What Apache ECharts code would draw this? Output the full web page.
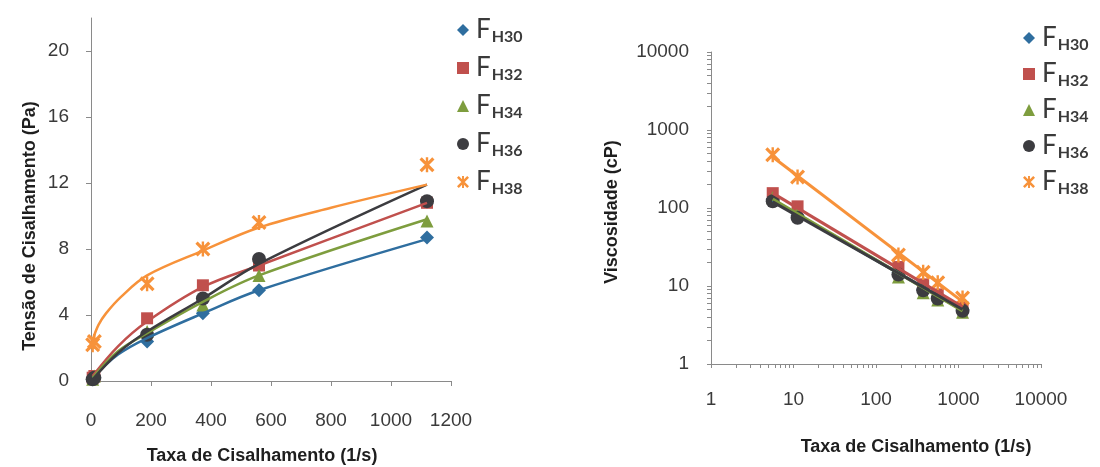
<!DOCTYPE html>
<html>
<head>
<meta charset="utf-8">
<script src="https://cdn.jsdelivr.net/npm/echarts@6/dist/echarts.min.js"></script>
<style>
html,body{margin:0;padding:0;background:#fff;}
#c{width:1100px;height:467px;}
</style>
</head>
<body>
<div id="c"></div>
<script>
// ---------- DATA ----------
const names = ['FH30', 'FH32', 'FH34', 'FH36', 'FH38'];

// Left chart: shear stress (Pa) vs shear rate (1/s)
const leftRate = [5.6, 11.2, 187, 373, 560, 1120];
const leftFH30 = [0.1, 0.2, 2.4, 4.1, 5.5, 8.7];
const leftFH32 = [0.2, 0.3, 3.8, 5.8, 7.0, 10.8];
const leftFH34 = [0.1, 0.3, 3.0, 4.6, 6.4, 9.7];
const leftFH36 = [0.1, 0.2, 2.8, 5.0, 7.4, 10.9];
const leftFH38 = [2.2, 2.4, 5.9, 8.0, 9.6, 13.1];

// Left chart trend lines
const trendRate = [5.6, 90, 187, 373, 560, 1120];
const trendFH30 = [0.2, 1.6, 2.6, 4.1, 5.5, 8.6];
const trendFH32 = [0.3, 2.1, 3.6, 5.7, 7.0, 10.8];
const trendFH34 = [0.2, 1.8, 2.9, 4.8, 6.4, 9.8];
const trendFH36 = [0.1, 1.7, 3.0, 5.0, 7.1, 11.9];
const trendRate38 = [5.6, 25, 50, 100, 187, 373, 560, 800, 1120];
const trendFH38 = [2.5, 3.4, 4.1, 5.1, 6.4, 7.9, 9.3, 10.5, 11.9];

// Right chart: viscosity (cP) vs shear rate (1/s), log-log
const rightRate = [5.6, 11.2, 187, 373, 560, 1120];
const rightFH30 = [130, 80, 15, 9.0, 7.0, 5.0];
const rightFH32 = [155, 105, 17.5, 10.5, 7.8, 5.3];
const rightFH34 = [135, 85, 13, 8.2, 6.6, 4.6];
const rightFH36 = [122, 75, 14, 8.8, 6.9, 4.8];
const rightFH38 = [480, 250, 25, 15, 11, 7.0];

// Right chart power-law trend lines (end points)
const rTrendRate = [5.6, 1120];
const rTrendFH30 = [125, 4.9];
const rTrendFH32 = [155, 5.4];
const rTrendFH34 = [130, 4.8];
const rTrendFH36 = [120, 5.0];
const rTrendFH38 = [450, 6.3];

// Tick labels
const leftXTicks = [0, 200, 400, 600, 800, 1000, 1200];
const leftYTicks = [0, 4, 8, 12, 16, 20];
const logTicks = [1, 10, 100, 1000, 10000];
const logMinorTicks = [];
[1, 10, 100, 1000].forEach(d => { for (let k = 1; k < 10; k++) logMinorTicks.push(d * k); });
logMinorTicks.push(10000);

// ---------- STYLE ----------
const colors = ['#2F6E9F', '#C0504D', '#7E9D3E', '#3C3C40', '#F7923A'];
const starPath = 'path://M0,1.5L1.5,0L10,8.5L8.5,10Z M8.5,0L10,1.5L1.5,10L0,8.5Z M4.2,0L5.8,0L5.8,10L4.2,10Z';
const symbols = ['diamond', 'rect', 'triangle', 'circle', starPath];
const symSizes = [14, 12, 13, 14, 15];
const axisColor = '#8a8a8a';
const labelColor = '#3a3a3a';
const fontFam = '"Liberation Sans", Arial, sans-serif';

const leftVals = [leftFH30, leftFH32, leftFH34, leftFH36, leftFH38];
const leftTrendX = [trendRate, trendRate, trendRate, trendRate, trendRate38];
const leftTrendY = [trendFH30, trendFH32, trendFH34, trendFH36, trendFH38];
const rightVals = [rightFH30, rightFH32, rightFH34, rightFH36, rightFH38];
const rightTrendY = [rTrendFH30, rTrendFH32, rTrendFH34, rTrendFH36, rTrendFH38];

const series = [];
names.forEach((n, i) => {
  series.push({
    name: n, type: 'line', xAxisIndex: 0, yAxisIndex: 0,
    data: leftRate.map((x, j) => [x, leftVals[i][j]]),
    lineStyle: { width: 0, opacity: 0 }, symbol: symbols[i], symbolSize: symSizes[i],
    itemStyle: { color: colors[i] }, z: 3, silent: true
  });
});
names.forEach((n, i) => {
  series.push({
    name: n + ' trend', type: 'line', xAxisIndex: 0, yAxisIndex: 0,
    data: leftTrendX[i].map((x, j) => [x, leftTrendY[i][j]]),
    smooth: 0.35, showSymbol: false, symbol: 'none',
    lineStyle: { width: 2.5, color: colors[i] }, itemStyle: { color: colors[i] }, z: 4, silent: true
  });
});
names.forEach((n, i) => {
  series.push({
    name: n, type: 'line', xAxisIndex: 1, yAxisIndex: 1,
    data: rightRate.map((x, j) => [x, rightVals[i][j]]),
    lineStyle: { width: 0, opacity: 0 }, symbol: symbols[i], symbolSize: symSizes[i],
    itemStyle: { color: colors[i] }, z: 3, silent: true
  });
});
names.forEach((n, i) => {
  series.push({
    name: n + ' trendR', type: 'line', xAxisIndex: 1, yAxisIndex: 1,
    data: rTrendRate.map((x, j) => [x, rightTrendY[i][j]]),
    showSymbol: false, symbol: 'none',
    lineStyle: { width: 3, color: colors[i] }, itemStyle: { color: colors[i] }, z: 4, silent: true
  });
});

function legendCfg(left, top, gap) {
  return {
    orient: 'vertical', left: left, top: top, itemWidth: 12, itemHeight: 12, itemGap: gap,
    selectedMode: false,
    data: names.map((n, i) => ({ name: n, icon: symbols[i], itemStyle: { color: colors[i] } })),
    formatter: n => '{f|F}{s|' + n.slice(1) + '}',
    textStyle: {
      padding: [0, 0, 0, 2],
      rich: {
        f: { fontSize: 26, fontFamily: 'Lato, sans-serif', color: '#3a3a3a', lineHeight: 30, verticalAlign: 'middle' },
        s: { fontSize: 16, fontFamily: 'Lato, sans-serif', fontWeight: 'bold', color: '#3a3a3a', lineHeight: 16, verticalAlign: 'bottom', padding: [0, 0, 0, 1] }
      }
    }
  };
}

function baseAxis(extra) {
  return Object.assign({
    axisLine: { show: true, lineStyle: { color: axisColor, width: 1 } },
    axisTick: { show: true, length: 5, inside: false, lineStyle: { color: axisColor } },
    splitLine: { show: false },
    axisLabel: { color: labelColor, fontSize: 19, fontFamily: fontFam, formatter: v => String(v) }
  }, extra);
}

const titleStyle = { fill: '#1e1e1e', font: 'bold 18px "Liberation Sans", Arial, sans-serif', textAlign: 'center', textVerticalAlign: 'middle' };

const option = {
  backgroundColor: '#ffffff',
  animation: false,
  grid: [
    { left: 91, top: 18, width: 360, height: 363, containLabel: false, outerBoundsMode: 'none' },
    { left: 711, top: 52, width: 330, height: 312, containLabel: false, outerBoundsMode: 'none' }
  ],
  xAxis: [
    baseAxis({
      type: 'value', gridIndex: 0, min: 0, max: 1200,
      axisTick: { show: true, length: 5, lineStyle: { color: axisColor }, customValues: leftXTicks },
      axisLabel: { color: labelColor, fontSize: 19, fontFamily: fontFam, margin: 30, customValues: leftXTicks, formatter: v => String(v) }
    }),
    baseAxis({
      type: 'log', logBase: 10, gridIndex: 1, min: 1, max: 10000,
      axisTick: { show: true, length: 4, lineStyle: { color: axisColor }, customValues: logMinorTicks },
      axisLabel: { color: labelColor, fontSize: 19, fontFamily: fontFam, margin: 26, customValues: logTicks, formatter: v => String(v) }
    })
  ],
  yAxis: [
    baseAxis({
      type: 'value', gridIndex: 0, min: 0, max: 22,
      axisTick: { show: true, length: 5, lineStyle: { color: axisColor }, customValues: leftYTicks },
      axisLabel: { color: labelColor, fontSize: 19, fontFamily: fontFam, margin: 22, customValues: leftYTicks, formatter: v => String(v) }
    }),
    baseAxis({
      type: 'log', logBase: 10, gridIndex: 1, min: 1, max: 10000,
      axisTick: { show: true, length: 4, lineStyle: { color: axisColor }, customValues: logMinorTicks },
      axisLabel: { color: labelColor, fontSize: 19, fontFamily: fontFam, margin: 22, customValues: logTicks, formatter: v => String(v) }
    })
  ],
  legend: [legendCfg(452, 12, 10), legendCfg(1018, 20, 8)],
  graphic: [
    { type: 'text', x: 30, y: 226, rotation: Math.PI / 2, style: Object.assign({ text: 'Tensão de Cisalhamento (Pa)' }, titleStyle) },
    { type: 'text', x: 262, y: 456, style: Object.assign({ text: 'Taxa de Cisalhamento (1/s)' }, titleStyle) },
    { type: 'text', x: 612, y: 212, rotation: Math.PI / 2, style: Object.assign({ text: 'Viscosidade (cP)' }, titleStyle) },
    { type: 'text', x: 916, y: 447, style: Object.assign({ text: 'Taxa de Cisalhamento (1/s)' }, titleStyle) }
  ],
  series: series
};

const chart = echarts.init(document.getElementById('c'), null, { renderer: 'canvas' });
chart.setOption(option);
</script>
</body>
</html>
